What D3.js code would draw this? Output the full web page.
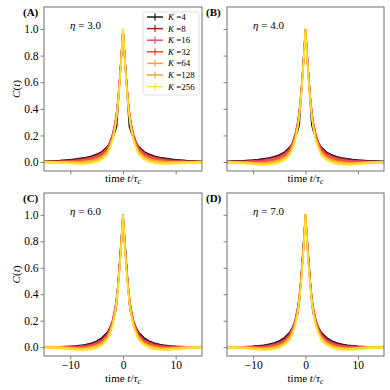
<!DOCTYPE html>
<html>
<head>
<meta charset="utf-8">
<script src="https://cdn.jsdelivr.net/npm/d3@7"></script>
<style>
  html, body { margin: 0; padding: 0; background: #fff; }
  svg, svg text { font-family: "Liberation Serif", "Times New Roman", "DejaVu Serif", serif !important; }
</style>
</head>
<body>
<div id="chart"></div>
<script>
// data (positive side, curves are symmetric in t)
const kValues = [4, 8, 16, 32, 64, 128, 256];
const kColors = ["#1a1a1a", "#b8182b", "#e4506e", "#ff4d1c", "#ff9f40", "#e3ad38", "#ffe02a"];
const kErr = [0.004, 0.005, 0.006, 0.007, 0.008, 0.010, 0.012];
const etaLabels = ["3.0", "4.0", "6.0", "7.0"];
const panelLabels = ["(A)", "(B)", "(C)", "(D)"];
const xTicks = [-10, 0, 10];
const yTicks = [0, 0.2, 0.4, 0.6, 0.8, 1.0];

// K=4 is sampled more coarsely
const tCoarse = [0, 1.2, 1.5, 2, 2.5, 3, 4, 5, 6, 7, 8, 9, 10, 12, 15];
const tFine = [0, 0.2, 0.4, 0.6, 0.8, 1, 1.25, 1.5, 2, 2.5, 3, 4, 5, 6, 7, 8, 9, 10, 12, 15];

const curvesA = [
  [1, .27, .23, .18, .14, .115, .078, .058, .044, .035, .028, .022, .018, .011, .006],
  [1, .87, .75, .64, .54, .45, .36, .295, .205, .15, .108, .07, .05, .037, .028, .021, .016, .012, .007, .003],
  [1, .87, .745, .635, .535, .445, .355, .29, .198, .143, .1, .062, .043, .03, .021, .015, .011, .008, .004, .002],
  [1, .865, .74, .63, .53, .44, .35, .283, .19, .135, .09, .052, .034, .022, .014, .009, .006, .004, .002, .001],
  [1, .865, .735, .625, .525, .435, .343, .275, .18, .125, .078, .04, .022, .011, .005, .002, .001, .001, 0, 0],
  [1, .86, .73, .62, .515, .425, .335, .265, .17, .115, .068, .03, .013, .003, -.003, -.005, -.004, -.003, -.001, 0],
  [1, .86, .73, .615, .51, .42, .325, .255, .16, .105, .06, .022, .005, -.005, -.01, -.012, -.01, -.007, -.003, 0]
];
const curvesB = [
  [1, .28, .235, .18, .14, .112, .075, .054, .04, .031, .024, .019, .015, .009, .005],
  [1, .87, .75, .64, .54, .45, .36, .295, .203, .147, .104, .066, .046, .033, .024, .018, .013, .01, .005, .002],
  [1, .87, .745, .635, .535, .445, .355, .29, .195, .14, .096, .057, .038, .026, .017, .011, .008, .006, .003, .001],
  [1, .865, .74, .63, .53, .44, .35, .283, .187, .131, .086, .046, .028, .016, .008, .004, .002, .001, 0, 0],
  [1, .865, .735, .625, .525, .435, .343, .275, .177, .121, .074, .034, .016, .005, -.002, -.006, -.007, -.005, -.002, 0],
  [1, .86, .73, .62, .515, .425, .335, .265, .167, .111, .064, .025, .007, -.004, -.01, -.013, -.012, -.009, -.004, -.001],
  [1, .86, .73, .615, .51, .42, .325, .255, .157, .1, .055, .018, 0, -.011, -.016, -.019, -.018, -.014, -.007, -.002]
];
const curvesC = [
  [1, .33, .25, .19, .145, .11, .07, .045, .03, .02, .013, .009, .006, .003, .001],
  [1, .87, .75, .64, .54, .45, .36, .295, .2, .142, .1, .058, .036, .022, .013, .008, .005, .003, .001, 0],
  [1, .87, .745, .635, .535, .445, .355, .29, .193, .135, .092, .05, .029, .016, .008, .004, .002, .001, 0, 0],
  [1, .865, .74, .63, .53, .44, .35, .283, .185, .127, .083, .04, .02, .008, .002, -.002, -.003, -.002, -.001, 0],
  [1, .865, .735, .625, .525, .435, .343, .275, .176, .118, .073, .031, .011, 0, -.006, -.009, -.008, -.006, -.002, 0],
  [1, .86, .73, .62, .515, .425, .335, .265, .166, .108, .064, .024, .005, -.007, -.012, -.014, -.012, -.009, -.004, 0],
  [1, .86, .73, .615, .51, .42, .325, .255, .156, .098, .056, .018, -.002, -.013, -.018, -.02, -.017, -.013, -.006, 0]
];
const curvesD = [
  [1, .33, .25, .19, .148, .113, .072, .047, .031, .021, .014, .01, .007, .003, .001],
  [1, .87, .75, .64, .54, .45, .36, .295, .202, .144, .102, .06, .037, .023, .014, .009, .006, .004, .002, 0],
  [1, .87, .745, .635, .535, .445, .355, .29, .195, .137, .094, .052, .03, .017, .009, .005, .003, .002, .001, 0],
  [1, .865, .74, .63, .53, .44, .35, .283, .187, .129, .085, .042, .021, .009, .002, -.001, -.002, -.002, -.001, 0],
  [1, .865, .735, .625, .525, .435, .343, .275, .178, .12, .075, .033, .012, 0, -.005, -.008, -.008, -.006, -.002, 0],
  [1, .86, .73, .62, .515, .425, .335, .265, .168, .11, .066, .026, .006, -.006, -.011, -.013, -.012, -.009, -.004, 0],
  [1, .86, .73, .615, .51, .42, .325, .255, .158, .1, .058, .02, -.001, -.012, -.017, -.019, -.017, -.013, -.006, 0]
];
const panelCurves = [curvesA, curvesB, curvesC, curvesD];

// layout
const boxes = [
  {x0: 44, x1: 202, y0: 7, y1: 171},
  {x0: 227, x1: 384, y0: 7, y1: 171},
  {x0: 44, x1: 202, y0: 193, y1: 356},
  {x0: 227, x1: 384, y0: 193, y1: 356}
];
const spine = "#606060";
const serif = "'Liberation Serif', 'Times New Roman', serif";

const svg = d3.select("#chart").append("svg")
  .attr("width", 390)
  .attr("height", 390)
  .attr("font-family", serif)
  .style("display", "block");

function mirror(ts, vs) {
  const pts = [];
  for (let i = ts.length - 1; i > 0; i--) pts.push([-ts[i], vs[i]]);
  for (let i = 0; i < ts.length; i++) pts.push([ts[i], vs[i]]);
  return pts;
}

boxes.forEach(function(b, p) {
  const x = d3.scaleLinear().domain([-15, 15]).range([b.x0, b.x1]);
  const y = d3.scaleLinear().domain([-0.067, 1.165]).range([b.y1, b.y0]);
  const g = svg.append("g");

  g.append("clipPath").attr("id", "clip" + p)
    .append("rect")
    .attr("x", b.x0).attr("y", b.y0)
    .attr("width", b.x1 - b.x0).attr("height", b.y1 - b.y0);

  const plot = g.append("g").attr("clip-path", "url(#clip" + p + ")");
  const line = d3.line().x(d => x(d[0])).y(d => y(d[1]));

  panelCurves[p].forEach(function(vals, k) {
    const ts = k === 0 ? tCoarse : tFine;
    const pts = mirror(ts, vals);
    const band = d3.area()
      .x(d => x(d[0]))
      .y0(d => y(d[1] - kErr[k]))
      .y1(d => y(d[1] + kErr[k]));
    plot.append("path").datum(pts)
      .attr("d", band)
      .attr("fill", kColors[k])
      .attr("opacity", 0.55);
    plot.append("path").datum(pts)
      .attr("d", line)
      .attr("fill", "none")
      .attr("stroke", kColors[k])
      .attr("stroke-width", 1.6);
  });

  // axes
  const xAxis = d3.axisBottom(x).tickValues(xTicks).tickSize(3.5).tickSizeOuter(0)
    .tickFormat(p >= 2 ? d => (d < 0 ? "\u2212" + Math.abs(d) : d) : "");
  const yAxis = d3.axisLeft(y).tickValues(yTicks).tickSize(3.5).tickSizeOuter(0)
    .tickFormat(p % 2 === 0 ? d3.format(".1f") : "");

  const gx = g.append("g").attr("transform", "translate(0," + b.y1 + ")").call(xAxis);
  const gy = g.append("g").attr("transform", "translate(" + b.x0 + ",0)").call(yAxis);
  [gx, gy].forEach(function(a) {
    a.attr("font-family", serif);
    a.select(".domain").remove();
    a.selectAll(".tick line").attr("stroke", spine).attr("stroke-width", 0.8);
    a.selectAll(".tick text").attr("fill", "#000")
      .style("font-size", "11.5px");
  });
  gx.selectAll(".tick text").attr("y", 5).attr("dy", "0.71em");
  gy.selectAll(".tick text").attr("x", -5.5);

  g.append("rect")
    .attr("x", b.x0).attr("y", b.y0)
    .attr("width", b.x1 - b.x0).attr("height", b.y1 - b.y0)
    .attr("fill", "none")
    .attr("stroke", spine)
    .attr("stroke-width", 0.9);

  // panel label
  g.append("text")
    .attr("x", b.x0 - 21).attr("y", b.y0 + 8.5)
    .attr("font-weight", "bold")
    .style("font-size", "11px")
    .text(panelLabels[p]);

  // eta label
  const eta = g.append("text")
    .attr("x", b.x0 + 26).attr("y", b.y0 + 21.5)
    .style("font-size", "11px");
  eta.append("tspan").attr("font-style", "italic").text("\u03b7");
  eta.append("tspan").text(" = " + etaLabels[p]);

  // x label
  const xl = g.append("text")
    .attr("x", (b.x0 + b.x1) / 2)
    .attr("y", p >= 2 ? b.y1 + 25.5 : b.y1 + 10.5)
    .attr("text-anchor", "middle")
    .style("font-size", "11px");
  xl.append("tspan").text("time ");
  xl.append("tspan").attr("font-style", "italic").text("t");
  xl.append("tspan").text("/");
  xl.append("tspan").attr("font-style", "italic").text("\u03c4");
  xl.append("tspan").attr("font-style", "italic").attr("font-size", "8px").attr("dy", 2).text("c");

  // y label
  if (p % 2 === 0) {
    const yl = g.append("text")
      .attr("transform", "translate(20," + ((b.y0 + b.y1) / 2) + ") rotate(-90)")
      .attr("text-anchor", "middle")
      .style("font-size", "11px");
    yl.append("tspan").attr("font-style", "italic").text("C");
    yl.append("tspan").text("(");
    yl.append("tspan").attr("font-style", "italic").text("t");
    yl.append("tspan").text(")");
  }

  // legend only in panel A
  if (p === 0) {
    const lg = g.append("g");
    lg.append("rect")
      .attr("x", 143).attr("y", 12)
      .attr("width", 56).attr("height", 83)
      .attr("rx", 2.5)
      .attr("fill", "#fff").attr("fill-opacity", 0.85)
      .attr("stroke", "#d8d8d8").attr("stroke-width", 0.8);
    kValues.forEach(function(kv, k) {
      const yy = 17 + k * 11.6;
      lg.append("line")
        .attr("x1", 147).attr("x2", 163).attr("y1", yy).attr("y2", yy)
        .attr("stroke", kColors[k]).attr("stroke-width", 1.5);
      lg.append("line")
        .attr("x1", 155).attr("x2", 155).attr("y1", yy - 3.5).attr("y2", yy + 3.5)
        .attr("stroke", kColors[k]).attr("stroke-width", 1.5).attr("opacity", 0.8);
      const tx = lg.append("text")
        .attr("x", 168).attr("y", yy + 3)
        .style("font-size", "9px");
      tx.append("tspan").attr("font-style", "italic").text("K");
      tx.append("tspan").text(" =" + kv);
    });
  }
});
</script>
</body>
</html>
